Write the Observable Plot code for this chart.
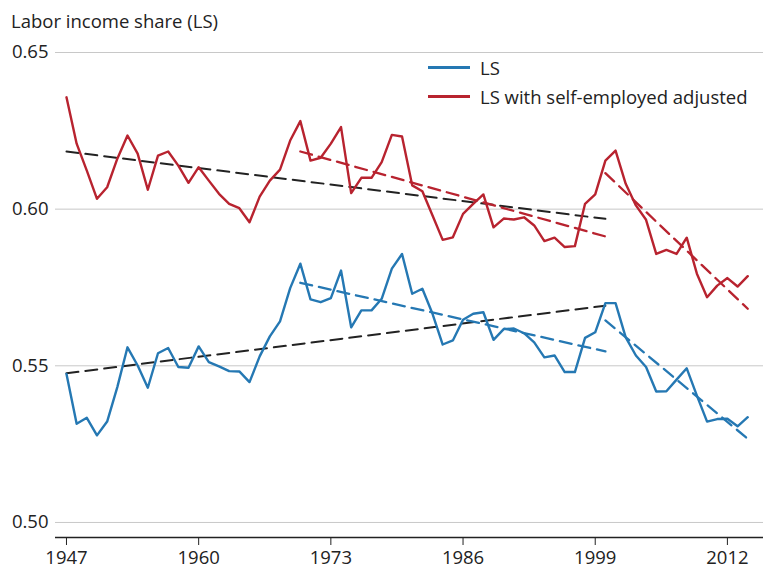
<!DOCTYPE html>
<html>
<head>
<meta charset="utf-8">
<script src="https://cdn.jsdelivr.net/npm/d3@7"></script>
<script src="https://cdn.jsdelivr.net/npm/@observablehq/plot@0.6"></script>
<style>
  html, body { margin: 0; padding: 0; background: #fff; }
  #wrap { position: relative; width: 763px; height: 569px; font-family: "Open Sans", sans-serif; color: #222; }
  #title { position: absolute; left: 11px; top: 8px; font-size: 18.5px; }
  #legend { position: absolute; left: 428px; top: 53px; font-size: 18.5px; }
  .row { display: flex; align-items: center; height: 29px; }
  .sw { width: 42px; height: 3px; margin-right: 10px; }
  #chart { position: absolute; left: 0; top: 0; }
</style>
</head>
<body>
<div id="wrap">
  <div id="chart"></div>
  <div id="title">Labor income share (LS)</div>
  <div id="legend"></div>
</div>
<script>
const years = d3.range(1947, 2015);
const ls = [
  0.5474, 0.5315, 0.5334, 0.5278, 0.5322, 0.5432, 0.5559, 0.5501, 0.5430, 0.5540,
  0.5557, 0.5496, 0.5494, 0.5562, 0.5512, 0.5498, 0.5483, 0.5482, 0.5448, 0.5530,
  0.5594, 0.5642, 0.5748, 0.5826, 0.5712, 0.5703, 0.5716, 0.5804, 0.5623, 0.5677,
  0.5677, 0.5714, 0.5810, 0.5857, 0.5730, 0.5746, 0.5666, 0.5568, 0.5581, 0.5647,
  0.5666, 0.5671, 0.5583, 0.5617, 0.5619, 0.5604, 0.5575, 0.5527, 0.5533, 0.5480,
  0.5480, 0.5589, 0.5607, 0.5700, 0.5700, 0.5591, 0.5533, 0.5496, 0.5418, 0.5419,
  0.5456, 0.5492, 0.5405, 0.5322, 0.5330, 0.5331, 0.5307, 0.5336
];
const lsAdj = [
  0.6357, 0.6209, 0.6123, 0.6033, 0.6070, 0.6161, 0.6235, 0.6177, 0.6062, 0.6171,
  0.6184, 0.6139, 0.6084, 0.6134, 0.6091, 0.6049, 0.6017, 0.6003, 0.5958, 0.6040,
  0.6091, 0.6126, 0.6219, 0.6281, 0.6155, 0.6164, 0.6209, 0.6262, 0.6051, 0.6100,
  0.6100, 0.6150, 0.6237, 0.6232, 0.6076, 0.6057, 0.5980, 0.5902, 0.5910, 0.5985,
  0.6017, 0.6047, 0.5942, 0.5970, 0.5967, 0.5974, 0.5948, 0.5898, 0.5909, 0.5879,
  0.5882, 0.6017, 0.6047, 0.6155, 0.6187, 0.6081, 0.6012, 0.5966, 0.5857, 0.5870,
  0.5857, 0.5909, 0.5794, 0.5719, 0.5756, 0.5780, 0.5753, 0.5786
];
// Trend lines: [startYear, endYear], [startValue, endValue]
const trendLongYears = [1947, 2000];
const trendLongAdj = [0.6184, 0.5969];
const trendLongLS = [0.5476, 0.5692];
const trendMidYears = [1970, 2000];
const trendMidAdj = [0.6184, 0.5913];
const trendMidLS = [0.5765, 0.5546];
const trendLateYears = [2000, 2014];
const trendLateAdj = [0.6115, 0.5682];
const trendLateLS = [0.5645, 0.5267];

const xTicks = [1947, 1960, 1973, 1986, 1999, 2012];
const yTicks = [0.50, 0.55, 0.60, 0.65];
const seriesNames = ["LS", "LS with self-employed adjusted"];
const blue = "#2578b3", red = "#b8232f";

const toRows = (xs, ys) => xs.map((x, i) => ({x, y: ys[i]}));
const yMin = 0.4952;
const dash = "12,7";

const chart = Plot.plot({
  width: 763,
  height: 569,
  marginTop: 52,
  marginBottom: 32,
  marginLeft: 55,
  marginRight: 0,
  style: { fontFamily: "Open Sans, sans-serif", fontSize: "18.5px", color: "#222", background: "white" },
  x: { domain: [1945.92, 2015.55], ticks: xTicks, tickFormat: d => String(d), tickSize: 8, tickPadding: 5, label: null },
  y: { domain: [yMin, 0.65], ticks: yTicks, tickFormat: d3.format(".2f"), tickSize: 0, tickPadding: 7, label: null },
  marks: [
    Plot.ruleY(yTicks, { stroke: "#c8c8c8", strokeWidth: 1 }),
    Plot.ruleY([yMin], { stroke: "#222", strokeWidth: 1.5 }),
    Plot.line(toRows(trendLongYears, trendLongAdj), { x: "x", y: "y", stroke: "#222", strokeWidth: 2, strokeDasharray: dash }),
    Plot.line(toRows(trendLongYears, trendLongLS), { x: "x", y: "y", stroke: "#222", strokeWidth: 2, strokeDasharray: dash }),
    Plot.line(toRows(years, ls), { x: "x", y: "y", stroke: blue, strokeWidth: 2.4 }),
    Plot.line(toRows(years, lsAdj), { x: "x", y: "y", stroke: red, strokeWidth: 2.4 }),
    Plot.line(toRows(trendMidYears, trendMidAdj), { x: "x", y: "y", stroke: red, strokeWidth: 2.3, strokeDasharray: dash }),
    Plot.line(toRows(trendLateYears, trendLateAdj), { x: "x", y: "y", stroke: red, strokeWidth: 2.3, strokeDasharray: dash }),
    Plot.line(toRows(trendMidYears, trendMidLS), { x: "x", y: "y", stroke: blue, strokeWidth: 2.3, strokeDasharray: dash }),
    Plot.line(toRows(trendLateYears, trendLateLS), { x: "x", y: "y", stroke: blue, strokeWidth: 2.3, strokeDasharray: dash })
  ]
});
document.getElementById("chart").appendChild(chart);

const legend = document.getElementById("legend");
[blue, red].forEach((c, i) => {
  const row = document.createElement("div");
  row.className = "row";
  const sw = document.createElement("div");
  sw.className = "sw";
  sw.style.background = c;
  const t = document.createElement("span");
  t.textContent = seriesNames[i];
  row.appendChild(sw);
  row.appendChild(t);
  legend.appendChild(row);
});
</script>
</body>
</html>
